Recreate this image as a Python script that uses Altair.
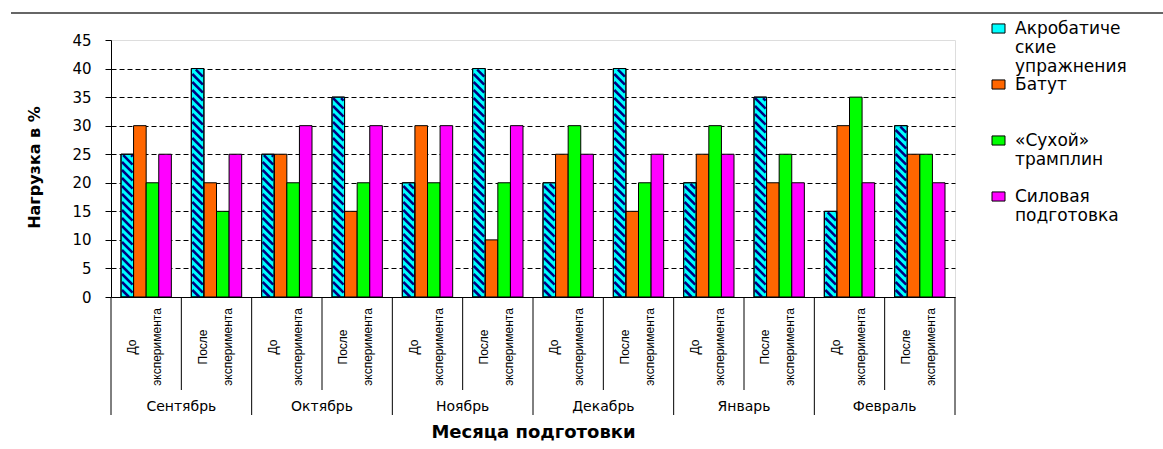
import altair as alt
import pandas as pd

# ---------------- data ----------------
months = ["Сентябрь", "Октябрь", "Ноябрь", "Декабрь", "Январь", "Февраль"]
phases = ["До эксперимента", "После эксперимента"]
series = ["Акробатические упражнения", "Батут", "«Сухой» трамплин", "Силовая подготовка"]
acro = [25, 40, 25, 35, 20, 40, 20, 40, 20, 35, 15, 30]
batut = [30, 20, 25, 15, 30, 10, 25, 15, 25, 20, 30, 25]
suhoy = [20, 15, 20, 20, 20, 20, 30, 20, 30, 25, 35, 25]
silovaya = [25, 25, 30, 30, 30, 30, 25, 25, 25, 20, 20, 20]
colors = ["#00FFFF", "#FF6600", "#00FF00", "#FF00FF"]
y_ticks = list(range(0, 50, 5))

# ---------------- layout ----------------
W, H = 844, 257
NSLOT = len(months) * len(phases)
YMAX = 45
BAR_W = 0.179
OFF = (1 - len(series) * BAR_W) / 2
FONT = "Liberation Sans"
WIDE = "DejaVu Sans"

rows = []
for k, (name, vals) in enumerate(zip(series, [acro, batut, suhoy, silovaya])):
    for i, v in enumerate(vals):
        x0 = i + OFF + k * BAR_W
        rows.append(dict(series=name, slot=i, value=v, x0=x0, x1=x0 + BAR_W))
bars_df = pd.DataFrame(rows)

# hatch stripes for the first series (derived from the values)
px_x, px_y = W / NSLOT, H / YMAX
wpx = BAR_W * px_x
period, d = 8.0, 1.0
segs = []
for i, v in enumerate(acro):
    xl = i + OFF
    h = v * px_y
    s = 0.0
    while s < h + wpx:
        t0 = max(d, s - h + d)
        t1 = min(wpx - d, s)
        if t0 < t1:
            segs.append(dict(xa=xl + t0 / px_x, ya=(s - t0) / px_y,
                             xb=xl + t1 / px_x, yb=(s - t1) / px_y))
        s += period
stripes_df = pd.DataFrame(segs)

slots_df = pd.DataFrame({
    "slot": list(range(NSLOT)),
    "phase": [phases[i % 2] for i in range(NSLOT)],
})
months_df = pd.DataFrame({"m": list(range(len(months))), "month": months})
sep_df = pd.DataFrame({"b": list(range(NSLOT + 1))})

xscale = alt.Scale(domain=[0, NSLOT], nice=False, zero=False)
yscale = alt.Scale(domain=[0, YMAX], nice=False)

x_axis = alt.Axis(
    labels=False, ticks=False, grid=False, domain=True, domainColor="black",
    title="Месяца подготовки", titleFont=WIDE, titleFontSize=18,
    titleFontWeight="bold", titleColor="black", titleY=135, titleBaseline="middle")
y_axis = alt.Axis(
    values=y_ticks, title="Нагрузка в %", grid=True, gridColor="black",
    gridDash=[5, 3], gridWidth=1,
    gridOpacity={"condition": {"test": "datum.value === 0 || datum.value === 45", "value": 0}, "value": 1},
    tickSize=6, tickColor="black", domainColor="black",
    labelColor="black", labelFont=WIDE, labelFontSize=15, labelPadding=14,
    titleFont=WIDE, titleFontSize=16, titleFontWeight="bold", titleColor="black",
    titleAngle=270, titleX=-77, titleY=127, titleAlign="center", titleBaseline="middle")

legend = alt.Legend(
    orient="none", legendX=879, legendY=-20, title=None, direction="vertical",
    symbolType="M-1,-0.7H1V0.7H-1Z", symbolSize=169,
    symbolStrokeColor="black", symbolStrokeWidth=1,
    labelFont=WIDE, labelFontSize=17, labelColor="black",
    labelBaseline="middle", labelOffset=8, labelLimit=300,
    labelExpr="datum.label == 'Акробатические упражнения' ? ['Акробатиче','ские','упражнения'] : split(datum.label, ' ')",
    gridAlign="all", rowPadding=0, padding=0,
)

bars = alt.Chart(bars_df).mark_rect(stroke="black", strokeWidth=1).encode(
    x=alt.X("x0:Q", scale=xscale, axis=x_axis),
    x2="x1:Q",
    y=alt.Y("value:Q", scale=yscale, axis=y_axis),
    y2=alt.datum(0),
    color=alt.Color("series:N", scale=alt.Scale(domain=series, range=colors), legend=legend),
)

stripes = alt.Chart(stripes_df).mark_rule(color="#000080", strokeWidth=2.5, strokeCap="butt").encode(
    x=alt.X("xa:Q", scale=xscale, axis=x_axis),
    x2="xb:Q",
    y=alt.Y("ya:Q", scale=yscale, axis=y_axis),
    y2="yb:Q",
)

outlines = alt.Chart(bars_df).transform_filter(
    alt.datum.series == series[0]
).mark_rect(filled=False, stroke="black", strokeWidth=1).encode(
    x=alt.X("x0:Q", scale=xscale, axis=x_axis),
    x2="x1:Q",
    y=alt.Y("value:Q", scale=yscale, axis=y_axis),
    y2=alt.datum(0),
)

sep_short = alt.Chart(sep_df).transform_filter("datum.b % 2 == 1").mark_rule(
    color="black", strokeWidth=1).encode(
    x=alt.X("b:Q", scale=xscale, axis=x_axis),
    y=alt.value(H), y2=alt.value(H + 93),
)
sep_long = alt.Chart(sep_df).transform_filter("datum.b % 2 == 0").mark_rule(
    color="black", strokeWidth=1).encode(
    x=alt.X("b:Q", scale=xscale, axis=x_axis),
    y=alt.value(H), y2=alt.value(H + 118),
)

sub_labels = alt.Chart(slots_df).transform_calculate(
    xc="datum.slot + 0.5", lines="split(datum.phase, ' ')"
).mark_text(angle=270, align="center", baseline="middle", font=FONT, fontSize=12,
            lineHeight=25, color="black", dy=-14).encode(
    x=alt.X("xc:Q", scale=xscale, axis=x_axis),
    y=alt.value(307),
    text="lines:N",
)

month_labels = alt.Chart(months_df).transform_calculate(
    xm="2 * datum.m + 1"
).mark_text(align="center", baseline="middle", font=WIDE, fontSize=14, color="black").encode(
    x=alt.X("xm:Q", scale=xscale, axis=x_axis),
    y=alt.value(367),
    text="month:N",
)

top_line = alt.Chart(pd.DataFrame({"k": [0]})).mark_rule(color="#333333", strokeWidth=1.5).encode(
    x=alt.value(-100), x2=alt.value(1052), y=alt.value(-27),
)

chart = alt.layer(
    bars, stripes, outlines, sep_short, sep_long, sub_labels, month_labels, top_line
).properties(
    width=W, height=H,
    padding={"left": 111, "top": 40, "right": 208, "bottom": 152},
    autosize=alt.AutoSizeParams(type="none"),
).configure_view(stroke="#808080", strokeWidth=1).configure(font=FONT, background="white")

chart.save("out.html", embed_options={"renderer": "svg", "actions": False})
